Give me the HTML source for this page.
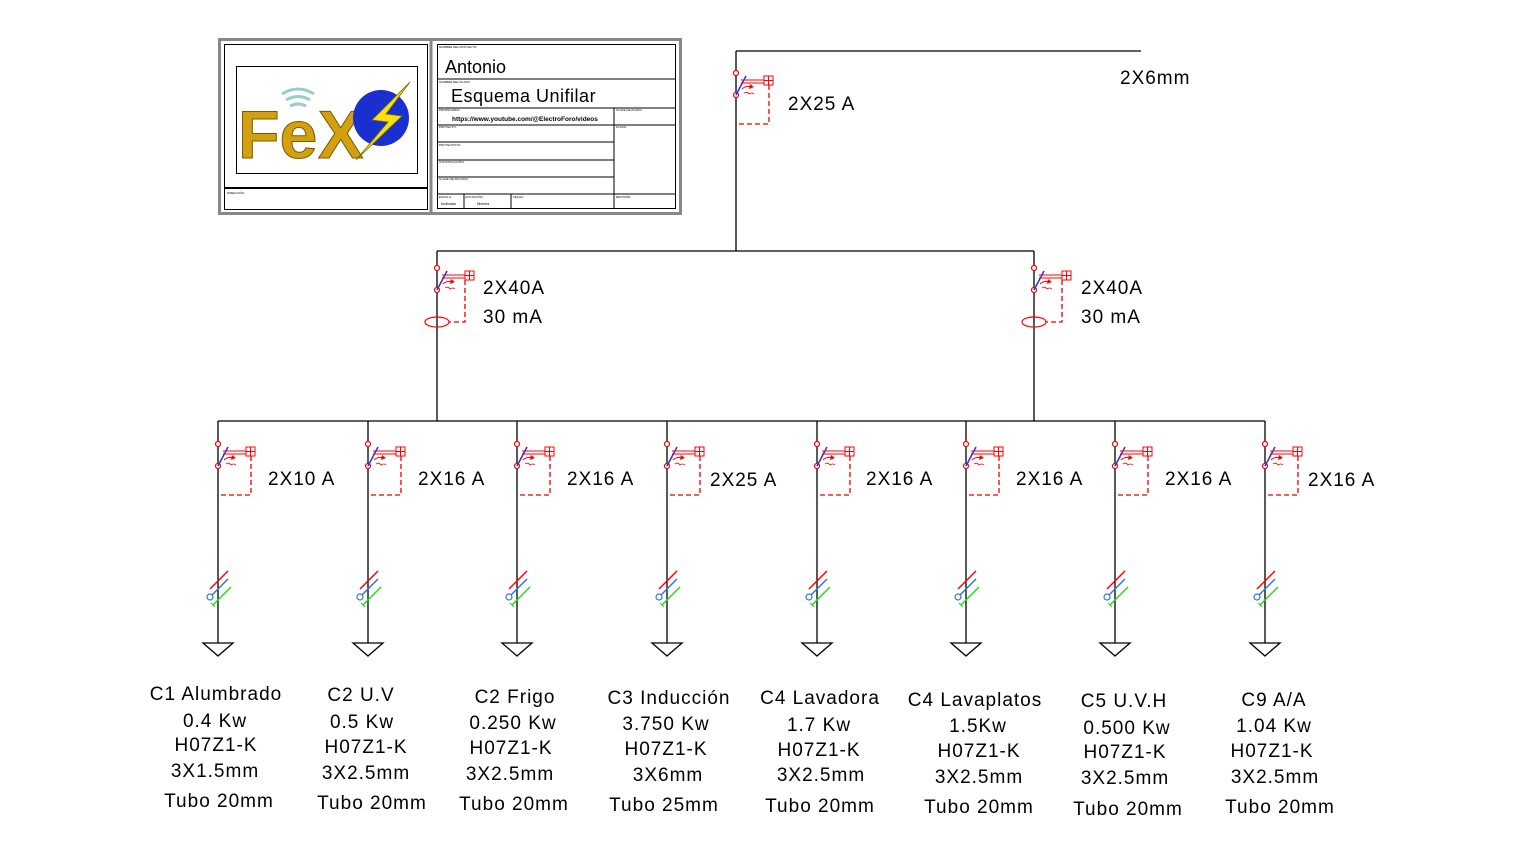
<!DOCTYPE html>
<html><head><meta charset="utf-8"><style>
body{margin:0;background:#fff;}
svg text{font-family:"Liberation Sans",Arial,sans-serif;fill:#000;}
.big text{letter-spacing:1px;}
</style></head><body>
<svg width="1518" height="855" viewBox="0 0 1518 855" xmlns="http://www.w3.org/2000/svg">
<defs>
<g id="brk">
  <circle cx="0" cy="-11" r="2.5" fill="#fff" stroke="red" stroke-width="1.2"/>
  <circle cx="0" cy="11" r="2.5" fill="#fff" stroke="red" stroke-width="1.2"/>
  <line x1="0" y1="11" x2="10" y2="-8" stroke="#2233ee" stroke-width="1.5"/>
  <line x1="5" y1="-4" x2="28" y2="-4" stroke="red" stroke-width="1"/>
  <line x1="5" y1="-1" x2="28" y2="-1" stroke="red" stroke-width="1"/>
  <rect x="28" y="-8" width="9" height="9" fill="none" stroke="red" stroke-width="1"/>
  <line x1="32.5" y1="-8" x2="32.5" y2="1" stroke="red"/>
  <line x1="28" y1="-3.5" x2="37" y2="-3.5" stroke="red"/>
  <path d="M6 5 q4 -4 10 -2" fill="none" stroke="red" stroke-width="1"/>
  <path d="M14 0 l4 3 l-5 2z" fill="red"/>
  <path d="M8 9 q3 -2 5 1 q3 -2 5 0" fill="none" stroke="red" stroke-width="0.8"/>
</g>
<g id="cab">
  <line x1="-8" y1="0" x2="10" y2="-18" stroke="red" stroke-width="1.5"/>
  <line x1="-8" y1="8" x2="10" y2="-10" stroke="#3377cc" stroke-width="1.5"/>
  <circle cx="-8" cy="8" r="3" fill="#fff" stroke="#3377cc" stroke-width="1.2"/>
  <line x1="-5" y1="16" x2="13" y2="-2" stroke="#22dd22" stroke-width="1.5"/>
  <line x1="-7" y1="14" x2="-3" y2="18" stroke="#22dd22" stroke-width="1.2"/>
  <path d="M-15 0 L15 0 L0 13 Z" transform="translate(0,54)" fill="#fff" stroke="#000" stroke-width="1.3"/>
</g>
</defs>

<!-- title block -->
<rect x="219.5" y="39.5" width="461" height="174" fill="#fff" stroke="#888" stroke-width="3"/>
<line x1="431" y1="40" x2="431" y2="213" stroke="#888" stroke-width="3"/>
<rect x="224.5" y="44.5" width="203" height="165" fill="none" stroke="#000"/>
<line x1="225" y1="188" x2="427" y2="188" stroke="#000" stroke-width="2"/>
<text x="227" y="194" font-size="3">DIRECCIÓN:</text>
<rect x="236.5" y="66.5" width="181" height="107" fill="none" stroke="#000"/>
<text x="238" y="158" font-size="68" font-weight="bold" style="fill:#d4a010;stroke:#7a5a00;stroke-width:1">Fe</text>
<text x="318" y="158" font-size="68" font-weight="bold" style="fill:#d4a010;stroke:#7a5a00;stroke-width:1">X</text>
<circle cx="381" cy="118" r="28" fill="#1a2fd0"/>
<path d="M410 82 L372 120 L388 122 L356 160 L402 116 L386 114 Z" fill="#f6e010" stroke="#7a6a00" stroke-width="0.8"/>
<path d="M282 94 q16 -10 32 0 M286 100 q12 -7 24 0 M290 106 q8 -4 16 0" fill="none" stroke="#9cc" stroke-width="3"/>

<rect x="437.5" y="44.5" width="238" height="164" fill="none" stroke="#000"/>
<line x1="438" y1="79" x2="676" y2="79" stroke="#000"/>
<line x1="438" y1="108" x2="676" y2="108" stroke="#000"/>
<line x1="438" y1="125" x2="676" y2="125" stroke="#000"/>
<line x1="438" y1="142" x2="614" y2="142" stroke="#000"/>
<line x1="438" y1="160" x2="614" y2="160" stroke="#000"/>
<line x1="438" y1="177" x2="614" y2="177" stroke="#000"/>
<line x1="438" y1="194" x2="676" y2="194" stroke="#000"/>
<line x1="614" y1="108" x2="614" y2="209" stroke="#000"/>
<line x1="464" y1="194" x2="464" y2="209" stroke="#000"/>
<line x1="511" y1="194" x2="511" y2="209" stroke="#000"/>
<text x="439" y="48" font-size="3">NOMBRE DEL PROYECTO:</text>
<text x="439" y="83" font-size="3">NOMBRE DEL PLANO:</text>
<text x="439" y="111" font-size="3">PROPIETARIO:</text>
<text x="616" y="111" font-size="3">CLAVE DE PLANO:</text>
<text x="616" y="128" font-size="3">PLANO:</text>
<text x="439" y="128" font-size="3">PROYECTO:</text>
<text x="439" y="146" font-size="3">PROYECTISTA:</text>
<text x="439" y="163" font-size="3">CONSTRUCCIÓN:</text>
<text x="439" y="180" font-size="3">CLAVE DE ARCHIVO:</text>
<text x="439" y="198" font-size="3">ESCALA:</text>
<text x="465" y="198" font-size="3">ACOTACIÓN:</text>
<text x="513" y="198" font-size="3">FECHA:</text>
<text x="616" y="198" font-size="3">REVISIÓN:</text>
<text x="441" y="205" font-size="4">Indicado</text>
<text x="477" y="205" font-size="4">Metros</text>
<text x="445" y="73" font-size="18">Antonio</text>
<text x="451" y="102" font-size="18" letter-spacing="0.5">Esquema Unifilar</text>
<text x="452" y="121" font-size="6.5" font-weight="bold">https://www.youtube.com/@ElectroForo/videos</text>

<!-- wiring -->
<g stroke="#000" stroke-width="1.3" fill="none">
<line x1="736" y1="51" x2="1141" y2="51"/>
<line x1="736" y1="51" x2="736" y2="251"/>
<line x1="437" y1="251" x2="1034" y2="251"/>
<line x1="437" y1="251" x2="437" y2="421"/>
<line x1="1034" y1="251" x2="1034" y2="421"/>
<line x1="218" y1="421" x2="1265" y2="421"/>
</g>

<g class="big">
<!-- main breaker -->
<g transform="translate(736,84)"><use href="#brk"/></g>
<polyline points="769,85 769,124 736,124" fill="none" stroke="#e00" stroke-width="1.3" stroke-dasharray="5,3"/>
<text x="788" y="110" font-size="19">2X25 A</text>
<text x="1120" y="84" font-size="19">2X6mm</text>

<!-- RCDs -->
<g transform="translate(437,279)"><use href="#brk"/></g>
<polyline points="465,280 465,322 449,322" fill="none" stroke="#e00" stroke-width="1.3" stroke-dasharray="5,3"/>
<ellipse cx="437" cy="322" rx="12" ry="5" fill="none" stroke="red" stroke-width="1.2"/>
<text x="483" y="294" font-size="19">2X40A</text>
<text x="483" y="323" font-size="19">30 mA</text>
<g transform="translate(1034,279)"><use href="#brk"/></g>
<polyline points="1062,280 1062,322 1046,322" fill="none" stroke="#e00" stroke-width="1.3" stroke-dasharray="5,3"/>
<ellipse cx="1034" cy="322" rx="12" ry="5" fill="none" stroke="red" stroke-width="1.2"/>
<text x="1081" y="294" font-size="19">2X40A</text>
<text x="1081" y="323" font-size="19">30 mA</text>
</g>

<!-- circuits -->
<g>
<g transform="translate(218,0)">
<line x1="0" y1="421" x2="0" y2="643" stroke="#000" stroke-width="1.3"/>
<g transform="translate(0,455)"><use href="#brk"/></g>
<polyline points="33,456 33,495 0,495" fill="none" stroke="#e00" stroke-width="1.3" stroke-dasharray="5,3"/>
<g transform="translate(0,589)"><use href="#cab"/></g>
</g>
<g transform="translate(368,0)">
<line x1="0" y1="421" x2="0" y2="643" stroke="#000" stroke-width="1.3"/>
<g transform="translate(0,455)"><use href="#brk"/></g>
<polyline points="33,456 33,495 0,495" fill="none" stroke="#e00" stroke-width="1.3" stroke-dasharray="5,3"/>
<g transform="translate(0,589)"><use href="#cab"/></g>
</g>
<g transform="translate(517,0)">
<line x1="0" y1="421" x2="0" y2="643" stroke="#000" stroke-width="1.3"/>
<g transform="translate(0,455)"><use href="#brk"/></g>
<polyline points="33,456 33,495 0,495" fill="none" stroke="#e00" stroke-width="1.3" stroke-dasharray="5,3"/>
<g transform="translate(0,589)"><use href="#cab"/></g>
</g>
<g transform="translate(667,0)">
<line x1="0" y1="421" x2="0" y2="643" stroke="#000" stroke-width="1.3"/>
<g transform="translate(0,455)"><use href="#brk"/></g>
<polyline points="33,456 33,495 0,495" fill="none" stroke="#e00" stroke-width="1.3" stroke-dasharray="5,3"/>
<g transform="translate(0,589)"><use href="#cab"/></g>
</g>
<g transform="translate(817,0)">
<line x1="0" y1="421" x2="0" y2="643" stroke="#000" stroke-width="1.3"/>
<g transform="translate(0,455)"><use href="#brk"/></g>
<polyline points="33,456 33,495 0,495" fill="none" stroke="#e00" stroke-width="1.3" stroke-dasharray="5,3"/>
<g transform="translate(0,589)"><use href="#cab"/></g>
</g>
<g transform="translate(966,0)">
<line x1="0" y1="421" x2="0" y2="643" stroke="#000" stroke-width="1.3"/>
<g transform="translate(0,455)"><use href="#brk"/></g>
<polyline points="33,456 33,495 0,495" fill="none" stroke="#e00" stroke-width="1.3" stroke-dasharray="5,3"/>
<g transform="translate(0,589)"><use href="#cab"/></g>
</g>
<g transform="translate(1115,0)">
<line x1="0" y1="421" x2="0" y2="643" stroke="#000" stroke-width="1.3"/>
<g transform="translate(0,455)"><use href="#brk"/></g>
<polyline points="33,456 33,495 0,495" fill="none" stroke="#e00" stroke-width="1.3" stroke-dasharray="5,3"/>
<g transform="translate(0,589)"><use href="#cab"/></g>
</g>
<g transform="translate(1265,0)">
<line x1="0" y1="421" x2="0" y2="643" stroke="#000" stroke-width="1.3"/>
<g transform="translate(0,455)"><use href="#brk"/></g>
<polyline points="33,456 33,495 0,495" fill="none" stroke="#e00" stroke-width="1.3" stroke-dasharray="5,3"/>
<g transform="translate(0,589)"><use href="#cab"/></g>
</g>
</g>

<g font-size="19" class="big">
<text x="268" y="485">2X10 A</text>
<text x="418" y="485">2X16 A</text>
<text x="567" y="485">2X16 A</text>
<text x="710" y="486">2X25 A</text>
<text x="866" y="485">2X16 A</text>
<text x="1016" y="485">2X16 A</text>
<text x="1165" y="485">2X16 A</text>
<text x="1308" y="486">2X16 A</text>
</g>

<g font-size="19" text-anchor="middle" class="big">
<text x="216" y="700">C1 Alumbrado</text><text x="215" y="727">0.4 Kw</text><text x="216" y="751">H07Z1-K</text><text x="215" y="777">3X1.5mm</text><text x="219" y="807">Tubo 20mm</text>
<text x="361" y="701">C2 U.V</text><text x="362" y="728">0.5 Kw</text><text x="366" y="753">H07Z1-K</text><text x="366" y="779">3X2.5mm</text><text x="372" y="809">Tubo 20mm</text>
<text x="515" y="703">C2 Frigo</text><text x="513" y="729">0.250 Kw</text><text x="511" y="754">H07Z1-K</text><text x="510" y="780">3X2.5mm</text><text x="514" y="810">Tubo 20mm</text>
<text x="669" y="704">C3 Inducción</text><text x="666" y="730">3.750 Kw</text><text x="666" y="755">H07Z1-K</text><text x="668" y="781">3X6mm</text><text x="664" y="811">Tubo 25mm</text>
<text x="820" y="704">C4 Lavadora</text><text x="819" y="731">1.7 Kw</text><text x="819" y="756">H07Z1-K</text><text x="821" y="781">3X2.5mm</text><text x="820" y="812">Tubo 20mm</text>
<text x="975" y="706">C4 Lavaplatos</text><text x="978" y="732">1.5Kw</text><text x="979" y="757">H07Z1-K</text><text x="979" y="783">3X2.5mm</text><text x="979" y="813">Tubo 20mm</text>
<text x="1124" y="707">C5 U.V.H</text><text x="1127" y="734">0.500 Kw</text><text x="1125" y="758">H07Z1-K</text><text x="1125" y="784">3X2.5mm</text><text x="1128" y="815">Tubo 20mm</text>
<text x="1274" y="706">C9 A/A</text><text x="1274" y="732">1.04 Kw</text><text x="1272" y="757">H07Z1-K</text><text x="1275" y="783">3X2.5mm</text><text x="1280" y="813">Tubo 20mm</text>
</g>
</svg>
</body></html>
